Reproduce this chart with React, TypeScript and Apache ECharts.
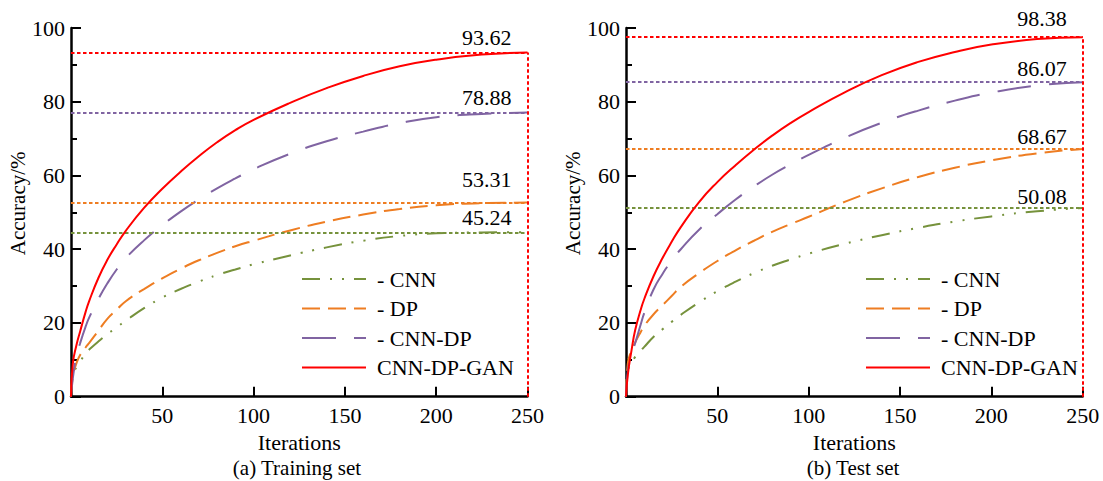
import React, { useEffect, useRef } from "react";
import * as echarts from "echarts";

const ITERS = [0, 1, 3, 5, 8, 10, 15, 20, 25, 30, 40, 50, 60, 70, 80, 90, 100, 120, 140, 160, 180, 200, 225, 250];

const TRAIN_CNN = [0, 6, 8, 9.5, 11.8, 12.8, 15, 17, 18.8, 20.6, 24, 26.9, 29.2, 31.2, 33, 34.5, 35.9, 38.3, 40.5, 42.3, 43.6, 44.3, 44.55, 44.6];
const TRAIN_DP = [0, 5.5, 9.1, 11.3, 13.4, 14.6, 17.9, 21.2, 23.6, 25.9, 29.2, 32.1, 34.7, 37, 39, 40.8, 42.3, 45.1, 47.5, 49.4, 50.9, 51.9, 52.5, 52.65];
const TRAIN_CNNDP = [0, 5, 11, 14.5, 19, 21.5, 26.5, 30.8, 34.5, 37.6, 42.4, 46.5, 50.2, 53.5, 56.5, 59.2, 61.7, 65.9, 69.3, 71.9, 74.2, 75.8, 76.7, 77.07];
const TRAIN_GAN = [0, 9, 14, 17.7, 23, 26, 32.2, 37.2, 41.3, 45, 51.2, 56.4, 61, 65.2, 69, 72.3, 75.1, 79.7, 83.7, 87, 89.6, 91.4, 92.8, 93.35];

const TEST_CNN = [0, 7, 9, 10.8, 12.5, 13.5, 16.2, 18.3, 20.3, 22.2, 25.6, 28.6, 31.2, 33.5, 35.5, 37.2, 38.8, 41.5, 43.8, 45.8, 47.5, 48.9, 50.3, 51.2];
const TEST_DP = [0, 9, 12.5, 14.7, 17.5, 19.2, 22.3, 24.8, 27.3, 29.8, 33.5, 36.8, 39.7, 42.3, 44.7, 46.8, 48.8, 52.9, 56.5, 59.6, 62.1, 64.1, 66, 67.2];
const TEST_CNNDP = [0, 7, 11.5, 14.5, 19.5, 22.7, 29, 33.3, 36.9, 40, 45.3, 49.5, 53.5, 57, 60.2, 63, 65.6, 70.3, 74.3, 77.6, 80.3, 82.5, 84.4, 85.3];
const TEST_GAN = [0, 6, 12.5, 18, 23.5, 26.5, 32.6, 37.6, 42, 46, 52.8, 58.2, 62.8, 67, 70.8, 74.2, 77.2, 82.6, 87.2, 90.8, 93.5, 95.5, 97, 97.5];

const NAMES = ["- CNN", "- DP", "- CNN-DP", "CNN-DP-GAN"];
const TRAIN_LABELS = ["45.24", "53.31", "78.88", "93.62"];
const TEST_LABELS = ["50.08", "68.67", "86.07", "98.38"];
const X_TICKS_MAX = 250;

const COLORS = ["#76923c", "#ee7d22", "#8064a2", "#ff0000"];
const DASHES: any[] = [[18, 10, 2, 10, 2, 10], [18, 8], [34, 18], "solid"];
const FONT = "'Liberation Serif', 'Times New Roman', serif";

function buildSeries(p: number, sets: number[][], labels: string[], gaps: number[]) {
  return sets.map((vals, i) => {
    const last = vals[vals.length - 1];
    const mlData: any[] = [
      {
        yAxis: last,
        label: {
          show: true,
          position: "insideEndTop",
          formatter: labels[i],
          fontFamily: FONT,
          fontSize: 22,
          color: "#000",
          distance: [16, gaps[i]],
        },
      },
    ];
    if (i === 3) {
      mlData.push([
        { coord: [X_TICKS_MAX, 0], label: { show: false } },
        { coord: [X_TICKS_MAX, last], label: { show: false } },
      ]);
    }
    return {
      type: "line",
      name: NAMES[i],
      xAxisIndex: p,
      yAxisIndex: p,
      data: ITERS.map((x, j) => [x, vals[j]]),
      showSymbol: false,
      symbol: "none",
      smooth: true,
      z: 2 + i,
      lineStyle: { color: COLORS[i], width: 2, type: DASHES[i] },
      itemStyle: { color: COLORS[i] },
      markLine: {
        silent: true,
        symbol: "none",
        animation: false,
        lineStyle: { color: COLORS[i], width: 2, type: [3.5, 2.5] },
        data: mlData,
      },
    };
  });
}

function axisPair(p: number) {
  const axisLine = { show: true, lineStyle: { color: "#000", width: 2.5 } };
  const label = { fontFamily: FONT, fontSize: 22, color: "#000" };
  return {
    x: {
      type: "value",
      gridIndex: p,
      min: 0,
      max: 250,
      interval: 50,
      axisLine,
      axisTick: { show: true, inside: true, length: 10, lineStyle: { color: "#000", width: 2 } },
      splitLine: { show: false },
      axisLabel: { ...label, margin: 8, formatter: (v: number) => (v === 0 ? "" : String(v)), showMaxLabel: true },
      name: "Iterations",
      nameLocation: "middle",
      nameGap: 33,
      nameTextStyle: { ...label },
    },
    y: {
      type: "value",
      gridIndex: p,
      min: 0,
      max: 100,
      interval: 20,
      axisLine,
      axisTick: { show: true, inside: true, length: 10, lineStyle: { color: "#000", width: 2 } },
      minorTick: { show: true, splitNumber: 2, length: 6, lineStyle: { color: "#000", width: 2 } },
      splitLine: { show: false },
      minorSplitLine: { show: false },
      axisLabel: { ...label, margin: 6 },
      name: "Accuracy/%",
      nameLocation: "middle",
      nameGap: 38,
      nameTextStyle: { ...label, fontSize: 21, padding: [0, 0, 0, 18] },
    },
  };
}

function legendAt(left: number) {
  return {
    orient: "vertical",
    left,
    top: 263,
    itemWidth: 64,
    itemHeight: 20,
    itemGap: 7.5,
    selectedMode: false,
    itemStyle: { opacity: 0 },
    textStyle: { fontFamily: FONT, fontSize: 22, color: "#000", padding: [0, 0, 0, 6] },
    data: NAMES,
  };
}

export default function App() {
  const ref = useRef<HTMLDivElement>(null);
  useEffect(() => {
    document.body.style.margin = "0";
    if (!ref.current) return;
    const chart = echarts.init(ref.current, null, { renderer: "svg" });
    const a0 = axisPair(0);
    const a1 = axisPair(1);
    chart.setOption({
      animation: false,
      backgroundColor: "#fff",
      grid: [
        { left: 71, top: 28, width: 456.5, height: 368.7 },
        { left: 626, top: 28, width: 456.7, height: 368.7 },
      ],
      xAxis: [a0.x, a1.x],
      yAxis: [a0.y, a1.y],
      legend: [legendAt(296), legendAt(860)],
      series: [
        ...buildSeries(0, [TRAIN_CNN, TRAIN_DP, TRAIN_CNNDP, TRAIN_GAN], TRAIN_LABELS, [4, 12, 4, 4]),
        ...buildSeries(1, [TEST_CNN, TEST_DP, TEST_CNNDP, TEST_GAN], TEST_LABELS, [0, 1, 3, 8]),
      ],
      graphic: [
        {
          type: "text",
          x: 297,
          y: 468,
          style: { text: "(a) Training set", fontFamily: FONT, fontSize: 21, fill: "#000", textAlign: "center", textVerticalAlign: "middle" },
        },
        {
          type: "text",
          x: 853,
          y: 468,
          style: { text: "(b) Test set", fontFamily: FONT, fontSize: 21, fill: "#000", textAlign: "center", textVerticalAlign: "middle" },
        },
      ],
    });
    return () => chart.dispose();
  }, []);
  return <div ref={ref} style={{ width: 1103, height: 481 }} />;
}
